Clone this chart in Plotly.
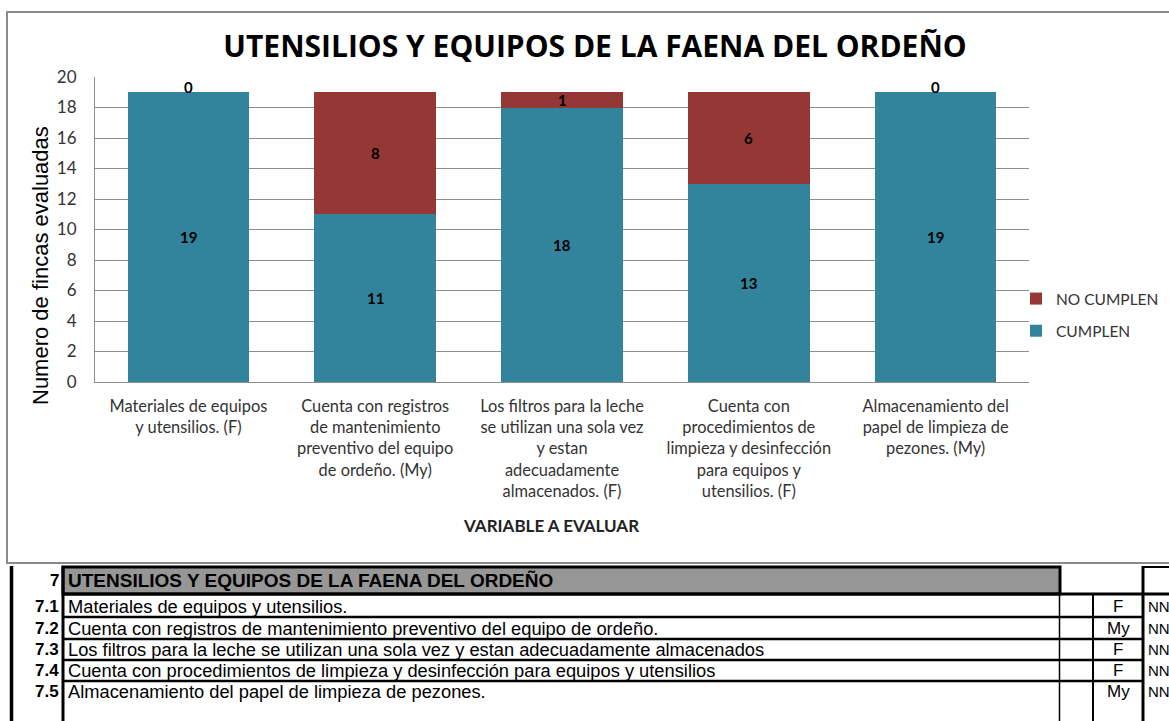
import plotly.graph_objects as go

# ---------------- data ----------------
categories = [
    "Materiales de equipos<br>y utensilios. (F)",
    "Cuenta con registros<br>de mantenimiento<br>preventivo del equipo<br>de ordeño. (My)",
    "Los filtros para la leche<br>se utilizan una sola vez<br>y estan<br>adecuadamente<br>almacenados. (F)",
    "Cuenta con<br>procedimientos de<br>limpieza y desinfección<br>para equipos y<br>utensilios. (F)",
    "Almacenamiento del<br>papel de limpieza de<br>pezones. (My)",
]
cumplen = [19, 11, 18, 13, 19]
no_cumplen = [0, 8, 1, 6, 0]
y_ticks = [0, 2, 4, 6, 8, 10, 12, 14, 16, 18, 20]

chart_title = "UTENSILIOS Y EQUIPOS DE LA FAENA DEL ORDEÑO"
y_title = "Numero de fincas evaluadas"
x_title = "VARIABLE A EVALUAR"

table_header_code = "7"
table_header_text = "UTENSILIOS Y EQUIPOS DE LA FAENA DEL ORDEÑO"
row_codes = ["7.1", "7.2", "7.3", "7.4", "7.5"]
row_texts = [
    "Materiales de equipos y utensilios.",
    "Cuenta con registros de mantenimiento preventivo del equipo de ordeño.",
    "Los filtros para la leche se utilizan una sola vez y estan adecuadamente almacenados",
    "Cuenta con procedimientos de limpieza y desinfección para equipos y utensilios",
    "Almacenamiento del papel de limpieza de pezones.",
]
row_freq = ["F", "My", "F", "F", "My"]
row_status = ["NNA", "NNA", "NNA", "NNA", "NNA"]

# ---------------- layout geometry (pixels) ----------------
W, H = 1169, 721
PL, PR, PT, PB = 95, 1029, 77, 382


def px(x):
    return (x - PL) / (PR - PL)


def py(y):
    return (PB - y) / (PB - PT)


TEAL = "#31849B"
RED = "#953735"
CAL = "Lato, 'Open Sans', sans-serif"
ARIAL = "'Liberation Sans', Arial, sans-serif"

fig = go.Figure()
fig.add_trace(go.Bar(x=categories, y=cumplen, name="CUMPLEN", marker_color=TEAL,
                     marker_line_width=0, legendgroup="g2", legendrank=2,
                     hoverinfo="skip"))
fig.add_trace(go.Bar(x=categories, y=no_cumplen, name="NO CUMPLEN", marker_color=RED,
                     marker_line_width=0, legendgroup="g1", legendrank=1,
                     hoverinfo="skip"))

annotations = []
LBL = dict(family=CAL, size=15, color="black")
# data labels
for cat, c, n in zip(categories, cumplen, no_cumplen):
    annotations.append(dict(x=cat, y=c / 2, xref="x", yref="y", text=f"<b>{c}</b>",
                            showarrow=False, xanchor="center", yanchor="middle", font=LBL))
    if n > 0:
        annotations.append(dict(x=cat, y=c + n / 2, xref="x", yref="y", text=f"<b>{n}</b>",
                                showarrow=False, xanchor="center", yanchor="middle", font=LBL))
    else:
        annotations.append(dict(x=cat, y=c, xref="x", yref="y", text=f"<b>{n}</b>",
                                showarrow=False, yshift=5, xanchor="center", yanchor="middle",
                                font=LBL))


def note(x, y, text, font, xanchor="center", **kw):
    annotations.append(dict(x=px(x), y=py(y), xref="paper", yref="paper", text=text,
                            xanchor=xanchor, yanchor="middle", showarrow=False, font=font, **kw))


# axis titles
note(40, 266, y_title, dict(family=ARIAL, size=22, color="black"), textangle=-90)
note(551, 525, f"<b>{x_title}</b>", dict(family=CAL, size=17, color="#222222"))

# ---------------- table (spreadsheet below the chart) ----------------
shapes = []


def hline(x0, x1, y, w, color="black"):
    shapes.append(dict(type="line", xref="paper", yref="paper", x0=px(x0), x1=px(x1),
                       y0=py(y), y1=py(y), line=dict(color=color, width=w)))


def vline(x, y0, y1, w, color="black"):
    shapes.append(dict(type="line", xref="paper", yref="paper", x0=px(x), x1=px(x),
                       y0=py(y0), y1=py(y1), line=dict(color=color, width=w)))


# chart outer border
shapes.append(dict(type="rect", xref="paper", yref="paper", x0=px(7), x1=px(1180),
                   y0=py(12), y1=py(563), line=dict(color="#8a8a8a", width=2),
                   fillcolor="rgba(0,0,0,0)", layer="below"))

# header cell
shapes.append(dict(type="rect", xref="paper", yref="paper", x0=px(63), x1=px(1060),
                   y0=py(567), y1=py(594), fillcolor="#969696",
                   line=dict(color="black", width=3)))
vline(11.5, 566, 725, 3.5)
vline(63, 566, 725, 3)
hline(63, 1175, 594, 3)
for yy in [617, 639, 660, 681]:
    hline(63, 1143, yy, 2.5)
vline(1059.5, 594, 725, 1.5)
vline(1093, 594, 725, 2)
vline(1143, 566, 725, 3)
hline(1143, 1175, 567, 2)

row_y = [606, 628, 649.5, 670.5, 692]
note(61, 580, f"<b>{table_header_code}</b>", dict(family=ARIAL, size=17, color="black"),
     xanchor="right")
note(66, 580, f"<b>{table_header_text}</b>", dict(family=ARIAL, size=19, color="black"),
     xanchor="left")
for yy, code, txt, fr, st in zip(row_y, row_codes, row_texts, row_freq, row_status):
    note(61, yy, f"<b>{code}</b>", dict(family=ARIAL, size=17, color="black"), xanchor="right")
    note(66, yy, txt, dict(family=ARIAL, size=18.3, color="black"), xanchor="left")
    note(1118, yy, fr, dict(family=ARIAL, size=17, color="black"))
    note(1146, yy, st, dict(family=ARIAL, size=15, color="black"), xanchor="left")

fig.update_layout(
    width=W, height=H,
    margin=dict(l=PL, r=W - PR, t=PT, b=H - PB, autoexpand=False),
    paper_bgcolor="white", plot_bgcolor="white",
    barmode="stack", bargap=0.35,
    title=dict(text=f"<b>{chart_title}</b>", x=595 / W, y=1 - 46 / H, xref="container",
               yref="container", xanchor="center", yanchor="middle",
               font=dict(family="'Open Sans', sans-serif", size=30, color="black")),
    xaxis=dict(showline=True, linecolor="#8f8f8f", linewidth=1, ticks="",
               ticklabelstandoff=9,
               tickfont=dict(family=CAL, size=16.4, color="#333333"), showgrid=False,
               fixedrange=True),
    yaxis=dict(range=[0, 20], tickvals=y_ticks, showline=True, linecolor="#8f8f8f",
               linewidth=1, showgrid=True, gridcolor="#8f8f8f", gridwidth=1,
               zeroline=False, ticks="", ticklabelstandoff=14,
               tickfont=dict(family=CAL, size=17, color="#333333"), fixedrange=True),
    showlegend=True,
    legend=dict(x=px(1016), y=py(282), xanchor="left", yanchor="top",
                traceorder="grouped", tracegroupgap=9,
                font=dict(family=CAL, size=15.5, color="#333333"), itemwidth=30,
                bgcolor="rgba(0,0,0,0)"),
    shapes=shapes,
    annotations=annotations,
)

fig.write_html("out.html", config={"displayModeBar": False},
               post_script="document.body.style.margin='0px';")
